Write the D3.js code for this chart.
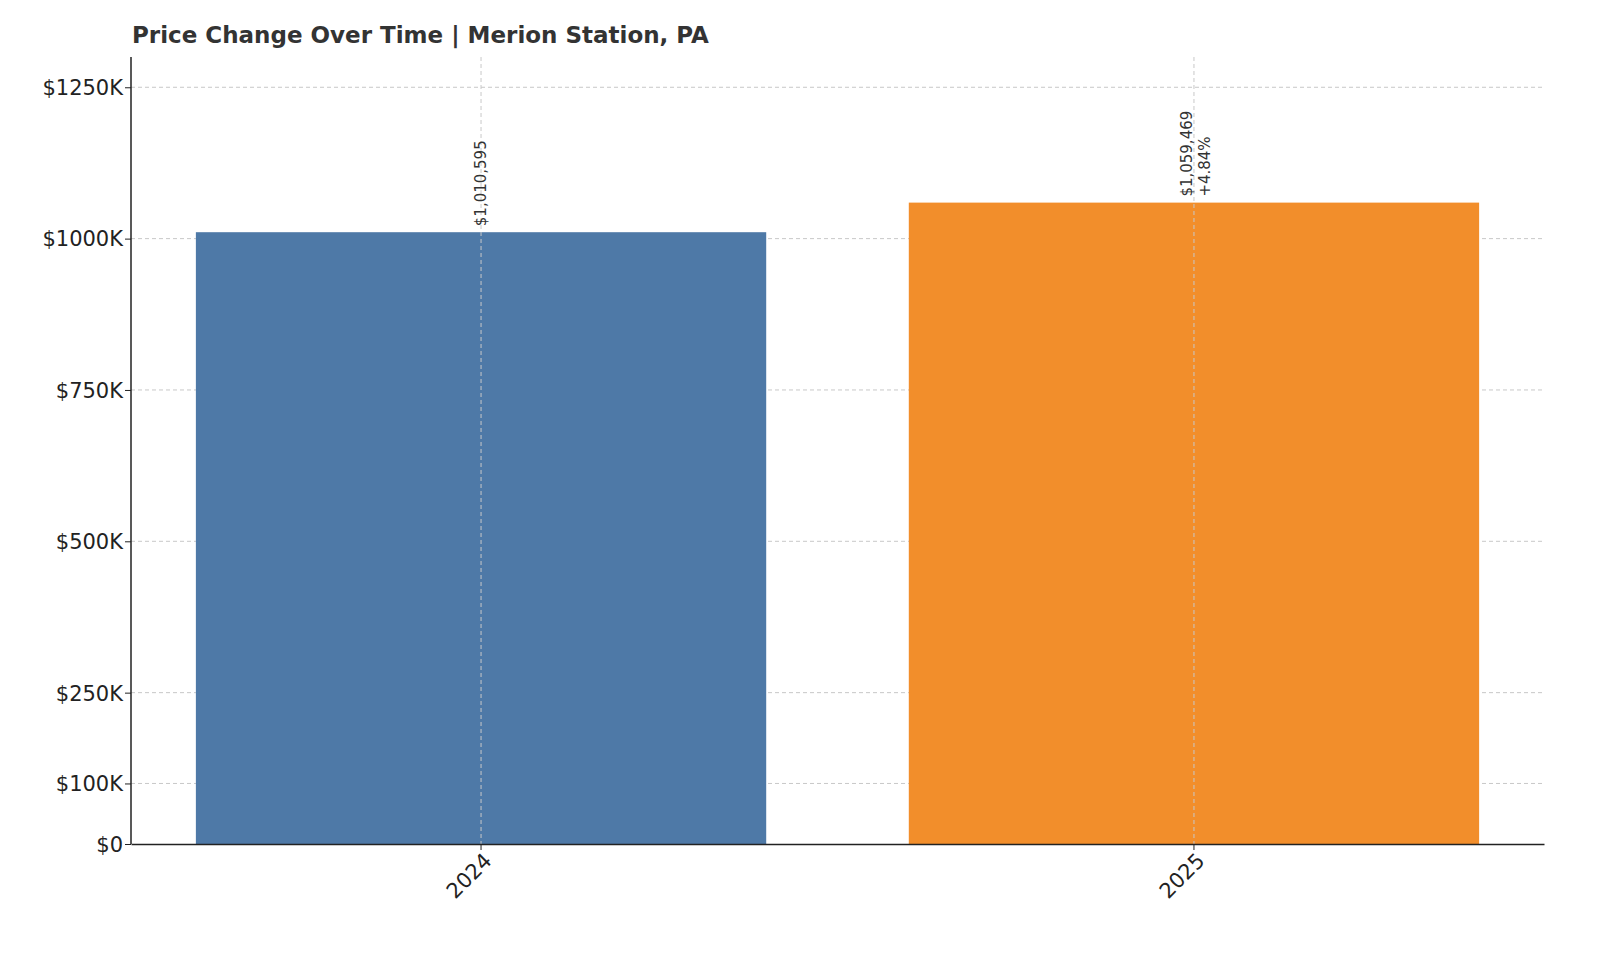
<!DOCTYPE html>
<html><head><meta charset="utf-8">
<script src="https://cdn.jsdelivr.net/npm/d3@7"></script>
<style>body{margin:0;background:#fff}text{font-family:"DejaVu Sans",sans-serif}</style>
</head><body><div id="wrapper"></div>
<script>
const years = ["2024", "2025"]
const prices = [1010595, 1059469]
const changes = [null, "+4.84%"]
const yTicks = [0, 100000, 250000, 500000, 750000, 1000000, 1250000]
const colors = ["#4e79a7", "#f28e2b"]

const width = 1600, height = 960
const margin = {top: 57, right: 56, bottom: 116, left: 131}

const svg = d3.select("#wrapper").append("svg")
  .attr("width", width).attr("height", height)

const x = d3.scaleBand().domain(years)
  .range([margin.left, width - margin.right])
  .paddingInner(0.2).paddingOuter(0.091)
const y = d3.scaleLinear().domain([0, 1300000])
  .range([height - margin.bottom, margin.top])

// grid
svg.append("g").selectAll("line").data(yTicks.slice(1)).join("line")
  .attr("x1", margin.left).attr("x2", width - margin.right)
  .attr("y1", d => y(d)).attr("y2", d => y(d))
  .attr("stroke", "#c8c8c8").attr("stroke-dasharray", "4,3")

// bars
svg.append("g").selectAll("rect").data(years).join("rect")
  .attr("x", d => x(d)).attr("width", x.bandwidth())
  .attr("y", (d, i) => y(prices[i]))
  .attr("height", (d, i) => y(0) - y(prices[i]))
  .attr("fill", (d, i) => colors[i])

svg.append("g").selectAll("line").data(years).join("line")
  .attr("x1", d => x(d) + x.bandwidth() / 2).attr("x2", d => x(d) + x.bandwidth() / 2)
  .attr("y1", margin.top).attr("y2", y(0))
  .attr("stroke", "#c8c8c8").attr("stroke-dasharray", "4,3")

// axes
const yAxis = svg.append("g").attr("transform", `translate(${margin.left},0)`)
  .call(d3.axisLeft(y).tickValues(yTicks).tickSize(6)
    .tickFormat(d => d === 0 ? "$0" : `$${d / 1000}K`))
yAxis.select(".domain").attr("d", `M0,${margin.top}V${y(0)}`).attr("stroke", "#222").attr("stroke-width", 1.5)
yAxis.selectAll("text").attr("font-size", 21).attr("fill", "#222").attr("dy", "0.35em").attr("x", -8)
yAxis.selectAll(".tick line").attr("stroke", "#222")

const xAxis = svg.append("g").attr("transform", `translate(0,${y(0)})`)
  .call(d3.axisBottom(x).tickSize(6).tickSizeOuter(0))
xAxis.select(".domain").attr("stroke", "#222").attr("stroke-width", 1.5)
xAxis.selectAll(".tick line").attr("stroke", "#222")
xAxis.selectAll("text").attr("font-size", 21).attr("fill", "#222")
  .attr("text-anchor", "end").attr("dy", 0).attr("y", 0)
  .attr("transform", "translate(12,18) rotate(-45)")

// value labels
years.forEach((yr, i) => {
  const cx = x(yr) + x.bandwidth() / 2
  const g = svg.append("text")
    .attr("transform", `translate(${cx},${y(prices[i]) - 6}) rotate(-90)`)
    .attr("font-size", 15).attr("fill", "#333")
  const lines = [d3.format("$,")(prices[i])]
  if (changes[i]) lines.push(changes[i])
  lines.forEach((t, j) => g.append("tspan").attr("x", 0)
    .attr("dy", j === 0 ? (lines.length > 1 ? "-0.1em" : "0.35em") : "1.2em").text(t))
})

svg.append("text").attr("x", 132).attr("y", 43)
  .attr("font-size", 23).attr("font-weight", "bold").attr("fill", "#333")
  .text("Price Change Over Time | Merion Station, PA")
</script></body></html>
